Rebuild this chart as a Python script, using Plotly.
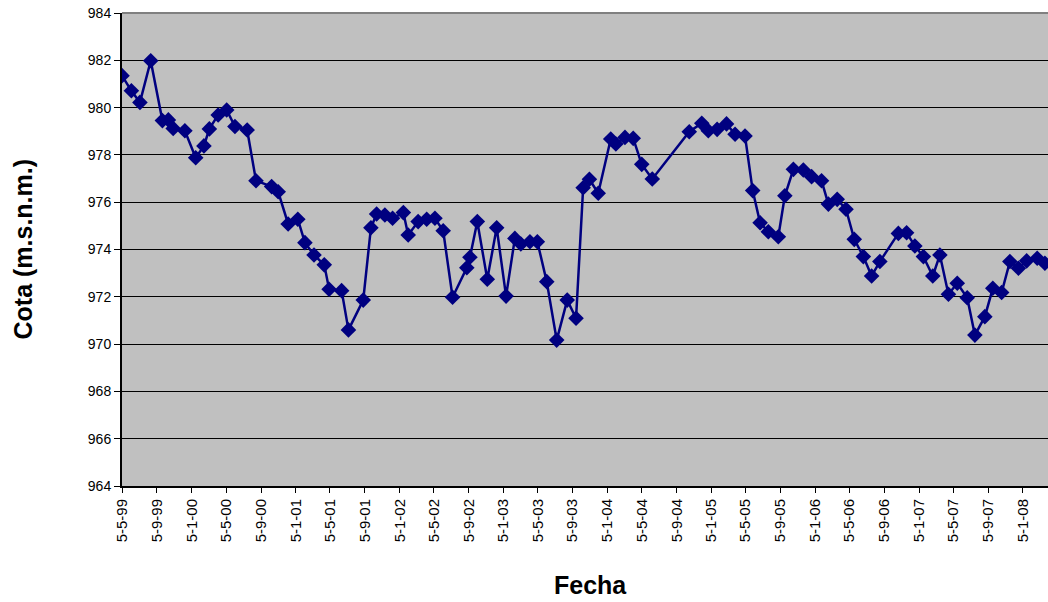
import plotly.graph_objects as go

# ---- data ----
fechas = [
    "1999-05-05", "1999-06-07", "1999-07-07", "1999-08-14", "1999-09-24", "1999-10-15",
    "1999-11-01", "1999-12-12", "2000-01-19", "2000-02-17", "2000-03-07", "2000-04-07",
    "2000-05-07", "2000-06-05", "2000-07-18", "2000-08-18", "2000-10-12", "2000-11-04",
    "2000-12-09", "2001-01-12", "2001-02-06", "2001-03-10", "2001-04-15", "2001-05-02",
    "2001-06-15", "2001-07-09", "2001-08-30", "2001-09-26", "2001-10-16", "2001-11-14",
    "2001-12-11", "2002-01-18", "2002-02-04", "2002-03-11", "2002-04-10", "2002-05-09",
    "2002-06-07", "2002-07-10", "2002-08-29", "2002-09-09", "2002-10-05", "2002-11-09",
    "2002-12-12", "2003-01-14", "2003-02-14", "2003-03-07", "2003-04-08", "2003-05-04",
    "2003-06-06", "2003-07-11", "2003-08-17", "2003-09-17", "2003-10-12", "2003-11-03",
    "2003-12-04", "2004-01-17", "2004-02-04", "2004-03-07", "2004-04-05", "2004-05-05",
    "2004-06-11", "2004-10-19", "2004-12-02", "2004-12-25", "2005-01-25", "2005-02-27",
    "2005-03-29", "2005-05-03", "2005-05-30", "2005-06-25", "2005-07-24", "2005-08-28",
    "2005-09-20", "2005-10-20", "2005-11-24", "2005-12-23", "2006-01-27", "2006-02-20",
    "2006-03-23", "2006-04-23", "2006-05-22", "2006-06-23", "2006-07-22", "2006-08-20",
    "2006-10-24", "2006-11-22", "2006-12-21", "2007-01-20", "2007-02-22", "2007-03-19",
    "2007-04-18", "2007-05-19", "2007-06-23", "2007-07-20", "2007-08-24", "2007-09-21",
    "2007-10-22", "2007-11-20", "2007-12-20", "2008-01-18", "2008-02-24", "2008-03-22",
]

cota = [
    981.35, 980.71, 980.22, 981.98, 979.45, 979.48,
    979.12, 979.02, 977.88, 978.38, 979.10, 979.69,
    979.90, 979.20, 979.05, 976.91, 976.66, 976.44,
    975.08, 975.28, 974.29, 973.77, 973.35, 972.32,
    972.26, 970.60, 971.86, 974.92, 975.50, 975.46,
    975.32, 975.56, 974.61, 975.18, 975.28, 975.32,
    974.79, 971.98, 973.23, 973.67, 975.18, 972.74,
    974.92, 972.03, 974.47, 974.23, 974.33, 974.33,
    972.64, 970.17, 971.86, 971.09, 976.61, 976.97,
    976.38, 978.67, 978.46, 978.74, 978.70, 977.60,
    976.98, 978.98, 979.34, 979.02, 979.08, 979.31,
    978.87, 978.80, 976.49, 975.13, 974.75, 974.54,
    976.27, 977.39, 977.36, 977.08, 976.91, 975.92,
    976.12, 975.70, 974.43, 973.70, 972.88, 973.49,
    974.68, 974.71, 974.15, 973.70, 972.88, 973.77,
    972.11, 972.57, 971.96, 970.38, 971.16, 972.36,
    972.18, 973.49, 973.21, 973.52, 973.63, 973.42,
]

tick_fechas = [
    "1999-05-05", "1999-09-05", "2000-01-05", "2000-05-05", "2000-09-05",
    "2001-01-05", "2001-05-05", "2001-09-05", "2002-01-05", "2002-05-05",
    "2002-09-05", "2003-01-05", "2003-05-05", "2003-09-05", "2004-01-05",
    "2004-05-05", "2004-09-05", "2005-01-05", "2005-05-05", "2005-09-05",
    "2006-01-05", "2006-05-05", "2006-09-05", "2007-01-05", "2007-05-05",
    "2007-09-05", "2008-01-05",
]
tick_textos = [
    "5-5-99", "5-9-99", "5-1-00", "5-5-00", "5-9-00",
    "5-1-01", "5-5-01", "5-9-01", "5-1-02", "5-5-02",
    "5-9-02", "5-1-03", "5-5-03", "5-9-03", "5-1-04",
    "5-5-04", "5-9-04", "5-1-05", "5-5-05", "5-9-05",
    "5-1-06", "5-5-06", "5-9-06", "5-1-07", "5-5-07",
    "5-9-07", "5-1-08",
]
y_ticks = [964, 966, 968, 970, 972, 974, 976, 978, 980, 982, 984]

FONT = "Liberation Sans, Arial, sans-serif"

fig = go.Figure()
fig.add_trace(go.Scatter(
    x=fechas, y=cota, mode="lines+markers",
    line=dict(color="#000080", width=2.5),
    marker=dict(symbol="diamond", size=12, color="#000080"),
    showlegend=False,
))

fig.update_layout(
    width=1048, height=602,
    margin=dict(l=122, r=0, t=13, b=116, autoexpand=False),
    paper_bgcolor="white", plot_bgcolor="#C0C0C0",
    font=dict(family=FONT, color="black"),
    xaxis=dict(
        type="date", range=["1999-05-05", "2008-04-02"], automargin=False,
        tickmode="array", tickvals=tick_fechas, ticktext=tick_textos,
        tickangle=-90, tickfont=dict(size=15, family=FONT),
        ticks="outside", ticklen=5, tickcolor="black", tickwidth=1,
        showgrid=False, showline=True, linecolor="black", linewidth=2,
        zeroline=False,
    ),
    yaxis=dict(
        range=[964, 984], tickmode="array", tickvals=y_ticks, automargin=False,
        tickfont=dict(size=14, family=FONT),
        ticks="outside", ticklen=6, tickcolor="black", tickwidth=1,
        showgrid=True, gridcolor="black", gridwidth=1,
        showline=True, linecolor="black", linewidth=2,
        zeroline=False,
    ),
    shapes=[dict(type="line", xref="paper", yref="paper", x0=0, x1=1, y0=1, y1=1,
                 line=dict(color="#808080", width=2), layer="above")],
    annotations=[
        dict(text="<b>Fecha</b>", xref="paper", yref="paper", x=(590 - 122) / 926, y=-(585 - 486) / 473,
             showarrow=False, font=dict(size=25, family=FONT), xanchor="center", yanchor="middle"),
        dict(text="<b>Cota (m.s.n.m.)</b>", xref="paper", yref="paper", x=-(122 - 22) / 926, y=0.5,
             showarrow=False, textangle=-90, font=dict(size=25, family=FONT),
             xanchor="center", yanchor="middle"),
    ],
)

fig.write_html(
    "out.html",
    config={"displayModeBar": False},
    post_script="document.body.style.margin='0';document.body.style.overflow='hidden';",
)
